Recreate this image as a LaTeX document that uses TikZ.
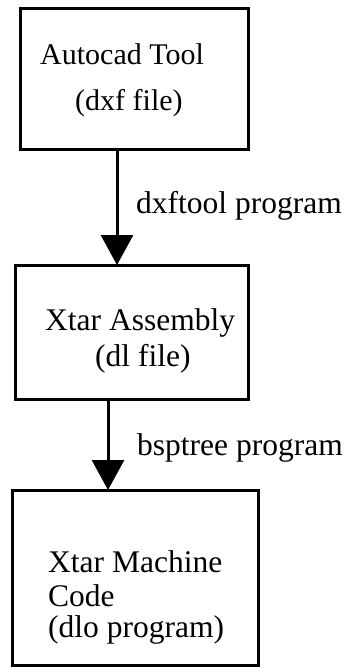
\documentclass[tikz,border=0pt]{standalone}
\usepackage{fontspec}
\setmainfont{Liberation Serif}
\usetikzlibrary{arrows.meta}
\begin{document}
\begin{tikzpicture}[x=1pt,y=-1pt,
  box/.style={draw,line width=3pt,inner sep=0pt,outer sep=0pt},
  lbl/.style={anchor=base west,inner sep=0pt,font=\fontsize{30}{36}\selectfont},
  lblb/.style={lbl,font=\fontsize{31.5}{36}\selectfont},
  arr/.style={line width=3pt,-{Triangle[width=32pt,length=30pt]}}]
\useasboundingbox (0,0) rectangle (350,668);
\node[box, minimum width=228pt, minimum height=141pt] (b1) at (134,79.5) {};
\node[box, minimum width=233pt, minimum height=134pt] (b2) at (131.5,332) {};
\node[box, minimum width=246pt, minimum height=175pt] (b3) at (135,577.5) {};
\coordinate (x1) at (117,0);
\coordinate (x2) at (108,0);
\draw[arr] (b1.south -| x1) -- (b2.north -| x1);
\draw[arr] (b2.south -| x2) -- (b3.north -| x2);
\node[lbl] (t1) at (40,65) {Autocad Tool};
\node[lbl] (t2) at (75,111) {(dxf file)};
\node[lblb] (l1) at (136,214) {dxftool program};
\node[lblb] (t3) at (45,330) {Xtar Assembly};
\node[lblb] (t4) at (95,366) {(dl file)};
\node[lblb] (l2) at (137,455) {bsptree program};
\node[lblb] (t5) at (48,572) {Xtar Machine};
\node[lblb] (t6) at (48,606) {Code};
\node[lblb] (t7) at (48,637) {(dlo program)};
\end{tikzpicture}
\end{document}
